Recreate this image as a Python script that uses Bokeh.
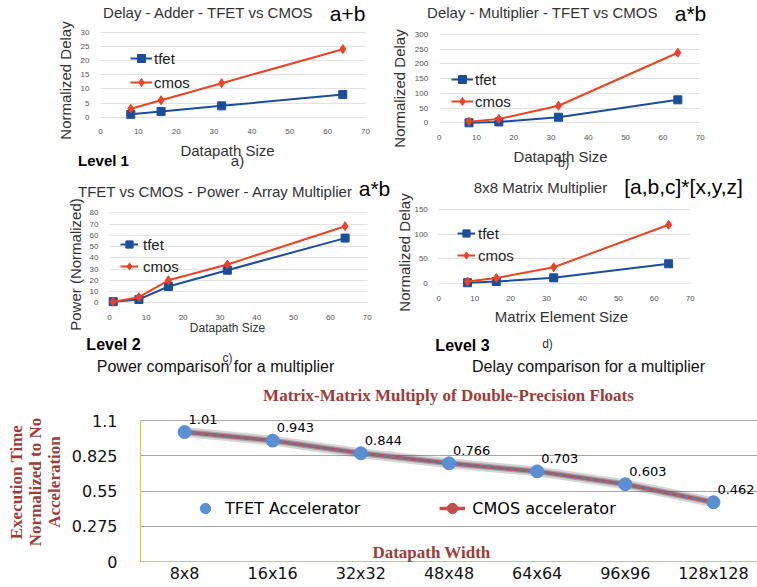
import math
from bokeh.plotting import figure
from bokeh.models import (Label, Legend, LegendItem, ColumnDataSource, FixedTicker,
                          SingleIntervalTicker, LabelSet, Range1d, FactorRange,
                          CustomJSTickFormatter)
from bokeh.layouts import column, row
from bokeh.core.properties import value
from bokeh.embed import file_html
from bokeh.resources import INLINE

# ---------------- data ----------------
adder_x = [8, 16, 32, 64]
adder_tfet = [1, 2, 4, 8]
adder_cmos = [3, 6, 12, 24]

mult_x = [8, 16, 32, 64]
mult_tfet = [0, 3, 19, 78]
mult_cmos = [4, 13, 58, 238]

power_x = [1, 8, 16, 32, 64]
power_tfet = [1, 3, 14.5, 29, 57.5]
power_cmos = [1, 5, 20, 34, 68]

matrix_x = [8, 16, 32, 64]
matrix_tfet = [1.5, 4, 11.5, 40]
matrix_cmos = [4, 11, 33, 119]

widths = ["8x8", "16x16", "32x32", "48x48", "64x64", "96x96", "128x128"]
exec_tfet = [1.01, 0.943, 0.844, 0.766, 0.703, 0.603, 0.462]
exec_cmos = [1.01, 0.943, 0.844, 0.766, 0.703, 0.603, 0.462]
exec_labels = ["1.01", "0.943", "0.844", "0.766", "0.703", "0.603", "0.462"]
exec_yticks = [0, 0.275, 0.55, 0.825, 1.1]

# ---------------- styles ----------------
TFET_C = "#1c4d9b"
CMOS_C = "#ef4123"
SANS = "Liberation Sans"
SERIF = "Liberation Serif"
DV = "DejaVu Sans"
DARKRED = "#9e3b37"
GOLD = "#f0c02a"


def geom(ox, oy, W, H, fl, fr, ft, fb, x0, x1, y0, y1):
    sx = (x1 - x0) / (fr - fl)
    sy = (y1 - y0) / (fb - ft)
    return dict(ox=ox, oy=oy, W=W, H=H, fl=fl, fr=fr, ft=ft, fb=fb,
                x0=x0, x1=x1, y0=y0, y1=y1,
                xr=(x0 + (ox - fl) * sx, x0 + (ox + W - fl) * sx),
                yr=(y0 + (fb - (oy + H)) * sy, y0 + (fb - oy) * sy))


def to_data(g, px, py):
    x = g["x0"] + (px - g["fl"]) / (g["fr"] - g["fl"]) * (g["x1"] - g["x0"])
    y = g["y0"] + (g["fb"] - py) / (g["fb"] - g["ft"]) * (g["y1"] - g["y0"])
    return x, y


def txt(p, g, text, px, py, size, font=SANS, style="normal", color="#333333",
        angle=0.0, align="center"):
    x, y = to_data(g, px, py)
    p.add_layout(Label(x=x, y=y, text=text, text_font=font,
                       text_font_size=f"{size}px", text_font_style=style,
                       text_color=color, angle=angle, text_align=align,
                       text_baseline="middle"))


def base_fig(W, H, x_range, y_range, left=0):
    p = figure(width=W, height=H, x_range=x_range, y_range=y_range,
               output_backend="svg", toolbar_location=None,
               min_border_left=left, min_border_right=0,
               min_border_top=0, min_border_bottom=0)
    p.title.visible = False
    p.outline_line_color = None
    p.background_fill_color = "white"
    p.border_fill_color = "white"
    return p


def small_chart(g, xs, tfet, cmos, ystep, leg):
    p = base_fig(g["W"], g["H"], Range1d(*g["xr"]), Range1d(*g["yr"]))
    p.xaxis.ticker = SingleIntervalTicker(interval=10, num_minor_ticks=0)
    p.yaxis.ticker = SingleIntervalTicker(interval=ystep, num_minor_ticks=0)
    p.xaxis.bounds = (g["x0"], g["x1"])
    p.yaxis.bounds = (g["y0"], g["y1"])
    p.xaxis.fixed_location = g["y0"]
    p.yaxis.fixed_location = g["x0"]
    for ax in (p.xaxis, p.yaxis):
        ax.axis_line_color = None
        ax.major_tick_line_color = None
        ax.minor_tick_line_color = None
        ax.major_label_text_font = SANS
        ax.major_label_text_font_size = "8px"
        ax.major_label_text_color = "#555555"
    p.xaxis.major_label_standoff = 6
    p.yaxis.major_label_standoff = 5
    p.xgrid.grid_line_color = None
    p.ygrid.grid_line_color = "#e2e2e2"
    try:
        p.ygrid.cross_bounds = (g["x0"], g["x1"])
    except Exception:
        pass
    lt = p.line(xs, tfet, color=TFET_C, line_width=2)
    st = p.scatter(xs, tfet, marker="square", size=8, color=TFET_C)
    lc = p.line(xs, cmos, color=CMOS_C, line_width=2)
    sc = p.scatter(xs, cmos, marker="diamond", size=9, color=CMOS_C)
    vx, vy, gw, standoff, spacing = leg
    legend = Legend(items=[LegendItem(label="tfet", renderers=[lt, st]),
                           LegendItem(label="cmos", renderers=[lc, sc])],
                    location=(vx, vy), glyph_width=gw, glyph_height=20,
                    label_height=20, label_standoff=standoff, spacing=spacing,
                    padding=0, margin=0, border_line_color=None,
                    background_fill_alpha=0, label_text_font=SANS,
                    label_text_font_size="15px", label_text_color="#222222")
    p.add_layout(legend)
    return p


# ---------------- chart a ----------------
gA = geom(0, 0, 378, 170, 100, 365, 31.7, 116.7, 0, 70, 0, 30)
pA = small_chart(gA, adder_x, adder_tfet, adder_cmos, 5, (130, 78, 22, 2, 4))
txt(pA, gA, "Delay - Adder - TFET vs CMOS", 208, 12, 15)
txt(pA, gA, "a+b", 347, 13, 21, color="#000000")
txt(pA, gA, "Normalized Delay", 65, 80, 15, angle=math.pi / 2)
txt(pA, gA, "Datapath Size", 227, 150, 15)
txt(pA, gA, "Level 1", 103, 160, 15, style="bold", color="#000000")
txt(pA, gA, "a)", 237, 160, 15)

# ---------------- chart b ----------------
gB = geom(378, 0, 379, 170, 438.7, 699.7, 34, 122.3, 0, 70, 0, 300)
pB = small_chart(gB, mult_x, mult_tfet, mult_cmos, 50, (73, 59, 22, 2, 2))
txt(pB, gB, "Delay - Multiplier - TFET vs CMOS", 542, 12, 15)
txt(pB, gB, "a*b", 690, 13, 21, color="#000000")
txt(pB, gB, "Normalized Delay", 399, 88, 15, angle=math.pi / 2)
txt(pB, gB, "Datapath Size", 560, 156, 15)
txt(pB, gB, "b)", 563, 162, 13)

# ---------------- chart c ----------------
gC = geom(0, 170, 394, 206, 109, 366.7, 212.3, 302.3, 0, 70, 0, 80)
pC = small_chart(gC, power_x, power_tfet, power_cmos, 10, (120, 100, 18, 5, 2))
txt(pC, gC, "TFET vs CMOS - Power - Array Multiplier", 215, 191, 15)
txt(pC, gC, "a*b", 374, 188, 21, color="#000000")
txt(pC, gC, "Power (Normalized)", 75, 264, 15, angle=math.pi / 2)
txt(pC, gC, "Datapath Size", 227, 327, 12)
txt(pC, gC, "Level 2", 113, 344, 16, style="bold", color="#000000")
txt(pC, gC, "c)", 227, 357, 12)
txt(pC, gC, "Power comparison for a multiplier", 215, 366, 16, color="#111111")

# ---------------- chart d ----------------
gD = geom(394, 170, 363, 206, 438.3, 689.7, 209, 283, 0, 70, 0, 150)
pD = small_chart(gD, matrix_x, matrix_tfet, matrix_cmos, 50, (63, 111, 18, 3, 2))
txt(pD, gD, "8x8 Matrix Multiplier", 540, 187, 15)
txt(pD, gD, "[a,b,c]*[x,y,z]", 683, 186, 21, color="#000000")
txt(pD, gD, "Normalized Delay", 404, 252, 15, angle=math.pi / 2)
txt(pD, gD, "Matrix Element Size", 561, 316, 15)
txt(pD, gD, "Level 3", 462, 345, 16, style="bold", color="#000000")
txt(pD, gD, "d)", 547, 343, 12)
txt(pD, gD, "Delay comparison for a multiplier", 588, 366, 16, color="#111111")

# ---------------- chart e ----------------
gE = geom(0, 376, 757, 211, 140, 757, 420, 561, 0, len(widths), 0, 1.1)
pE = base_fig(757, 211, FactorRange(*widths), Range1d(*gE["yr"]), left=140)
pE.yaxis.ticker = FixedTicker(ticks=exec_yticks)
pE.yaxis.formatter = CustomJSTickFormatter(code="return tick.toString()")
pE.yaxis.bounds = (0, 1.1)
pE.xaxis.fixed_location = 0
for ax in (pE.xaxis, pE.yaxis):
    ax.axis_line_color = GOLD
    ax.axis_line_width = 1
    ax.major_tick_line_color = None
    ax.minor_tick_line_color = None
    ax.major_label_text_font = DV
    ax.major_label_text_color = "#111111"
pE.yaxis.major_label_text_font_size = "16px"
pE.yaxis.major_label_standoff = 17
pE.yaxis.axis_label = "Execution Time\nNormalized to No\nAcceleration"
pE.yaxis.axis_label_text_font = SERIF
pE.yaxis.axis_label_text_font_style = "bold"
pE.yaxis.axis_label_text_font_size = "17px"
pE.yaxis.axis_label_text_line_height = 1.0
pE.yaxis.axis_label_text_color = DARKRED
pE.yaxis.axis_label_standoff = 5
pE.xaxis.major_label_text_font_size = "16px"
pE.xaxis.major_label_standoff = -4
pE.xgrid.grid_line_color = None
pE.ygrid.grid_line_color = "#a8a8a8"

src = ColumnDataSource(dict(w=widths, t=exec_tfet, c=exec_cmos, lab=exec_labels))
pE.line("w", "t", source=src, line_width=10, color="#333333", alpha=0.2)
pE.line("w", "t", source=src, line_width=6, color="#2a2a2a", alpha=0.3)
cl = pE.line("w", "c", source=src, color="#c0504d", line_width=3.5)
pE.line("w", "t", source=src, color="#4f81bd", line_width=2.5, line_dash="4 4")
cs = pE.scatter("w", "c", source=src, size=11, color="#c0504d")
ts = pE.scatter("w", "t", source=src, size=13, color="#5b8fd3")
pE.add_layout(LabelSet(x="w", y="t", text="lab", source=src, x_offset=4, y_offset=13,
                       text_font=value(DV), text_font_size="13px",
                       text_color="#000000", text_baseline="middle"))
legE = Legend(items=[LegendItem(label="TFET Accelerator", renderers=[ts]),
                     LegendItem(label="CMOS accelerator", renderers=[cl, cs])],
              location=(52, 65), orientation="horizontal", glyph_width=26,
              glyph_height=28, label_height=28, label_standoff=7, spacing=79,
              padding=0, margin=0, border_line_color=None, background_fill_alpha=0,
              label_text_font=DV, label_text_font_size="16px",
              label_text_color="#000000")
pE.add_layout(legE)

txt(pE, gE, "Matrix-Matrix Multiply of Double-Precision Floats", 448, 395, 17,
    font=SERIF, style="bold", color=DARKRED)
txt(pE, gE, "Datapath Width", 431, 552, 17, font=SERIF, style="bold", color=DARKRED)

layout = column(row(pA, pB), row(pC, pD), pE)
open("out.html", "w").write(file_html(layout, INLINE))
